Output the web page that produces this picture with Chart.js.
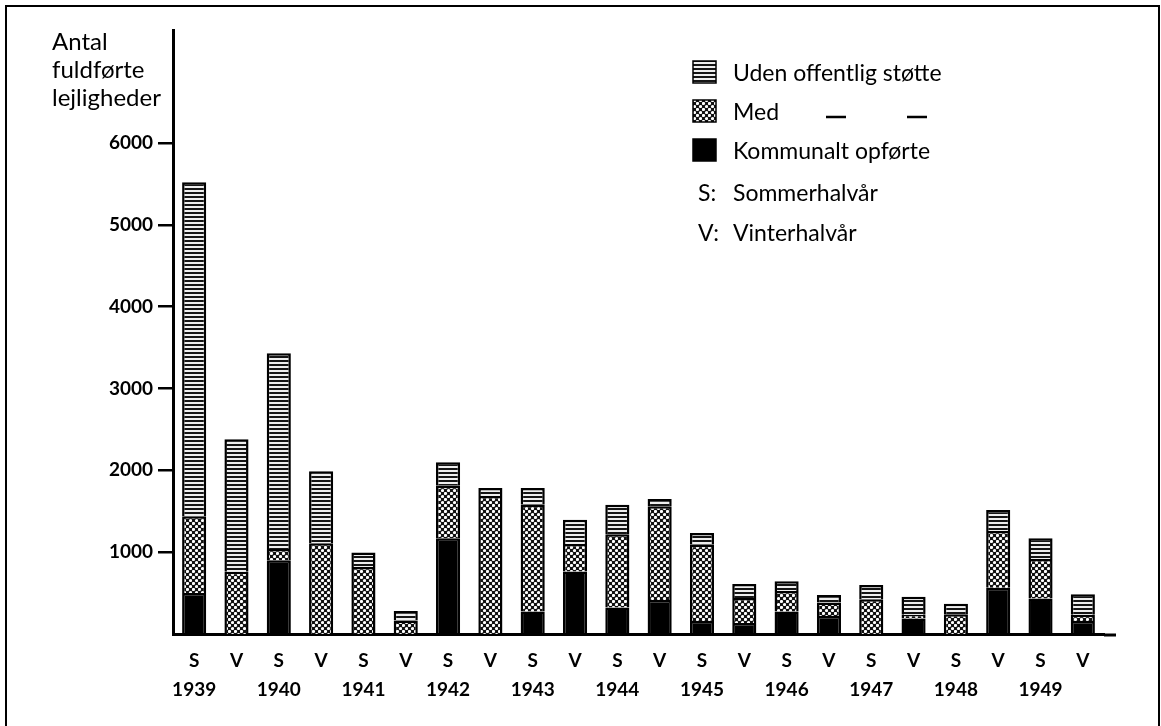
<!DOCTYPE html>
<html>
<head>
<meta charset="utf-8">
<script src="https://cdn.jsdelivr.net/npm/chart.js@4.4.0/dist/chart.umd.min.js"></script>
<style>
  html, body { margin: 0; padding: 0; background: #fff; }
  #wrap { width: 1161px; height: 726px; }
</style>
</head>
<body>
<div id="wrap"><canvas id="boligChart" width="1161" height="726"></canvas></div>
<script>
// halvår og år under søjlerne
const seasons = ['S','V','S','V','S','V','S','V','S','V','S','V','S','V','S','V','S','V','S','V','S','V'];
const years   = ['1939','','1940','','1941','','1942','','1943','','1944','','1945','','1946','','1947','','1948','','1949',''];

// antal fuldførte lejligheder pr. halvår (aflæst)
const kommunalt = [500, 0, 900, 0, 0, 0, 1170, 0, 275, 765, 325, 415, 160, 135, 275, 220, 0, 190, 0, 565, 435, 160];
const medStotte = [940, 760, 140, 1110, 820, 165, 640, 1685, 1305, 335, 895, 1145, 930, 305, 250, 165, 425, 45, 240, 695, 480, 75];
const udenStotte = [4080, 1620, 2390, 880, 175, 115, 290, 100, 205, 295, 360, 90, 145, 170, 120, 90, 175, 220, 130, 255, 255, 250];

const yTicks = [1000, 2000, 3000, 4000, 5000, 6000];
const yTitle = ['Antal', 'fuldførte', 'lejligheder'];
const notes = [['S:', 'Sommerhalvår'], ['V:', 'Vinterhalvår']];

const FONT = 'Lato, "Open Sans", sans-serif';

// skravering: vandrette striber
function stripePattern() {
    const c = document.createElement('canvas');
    c.width = 8; c.height = 4;
    const g = c.getContext('2d');
    g.fillStyle = '#eeeeee';
    g.fillRect(0, 0, 8, 4);
    g.fillStyle = '#151515';
    g.fillRect(0, 0, 8, 2);
    return g.createPattern(c, 'repeat');
}

// krydsskravering: sort med hvide prikker
function crossPattern() {
    const c = document.createElement('canvas');
    c.width = 6; c.height = 6;
    const g = c.getContext('2d');
    g.fillStyle = '#111';
    g.fillRect(0, 0, 6, 6);
    g.fillStyle = '#fff';
    [[1.5, 1.5], [4.5, 4.5]].forEach(function(p) {
        g.beginPath();
        g.arc(p[0], p[1], 1.6, 0, Math.PI * 2);
        g.fill();
    });
    return g.createPattern(c, 'repeat');
}

const labels = seasons.map(function(s, i) { return [s, years[i]]; });

// ramme, aksetitel og forklaring
const decorPlugin = {
    id: 'decor',
    afterDraw: function(chart) {
        const ctx = chart.ctx;
        const area = chart.chartArea;
        ctx.save();

        // ramme
        ctx.strokeStyle = '#000';
        ctx.lineWidth = 2;
        ctx.beginPath();
        ctx.moveTo(6, 726);
        ctx.lineTo(6, 6);
        ctx.lineTo(1159, 6);
        ctx.lineTo(1159, 726);
        ctx.stroke();

        // x-aksen fortsætter lidt
        ctx.lineWidth = 3;
        ctx.beginPath();
        ctx.moveTo(area.right, area.bottom + 1);
        ctx.lineTo(area.right + 12, area.bottom + 1);
        ctx.stroke();

        // aksetitel
        ctx.fillStyle = '#000';
        ctx.font = '24px ' + FONT;
        ctx.textAlign = 'left';
        ctx.textBaseline = 'alphabetic';
        yTitle.forEach(function(t, i) {
            ctx.fillText(t, 52, 50 + i * 28);
        });

        // forklaring
        const sx = 693, tx = 733;
        const rowY = [72, 111, 150, 192, 232];
        const ds = chart.data.datasets.slice().reverse();
        ctx.font = '23px ' + FONT;
        ctx.textBaseline = 'middle';
        ds.forEach(function(d, i) {
            const y = rowY[i];
            ctx.fillStyle = d.backgroundColor;
            ctx.fillRect(sx, y - 11, 23, 22);
            ctx.lineWidth = 1.5;
            ctx.strokeStyle = '#000';
            ctx.strokeRect(sx, y - 11, 23, 22);
            ctx.fillStyle = '#000';
            ctx.fillText(d.label, tx, y + 2);
            if (d.ditto) {
                ctx.lineWidth = 2.5;
                ctx.beginPath();
                ctx.moveTo(826, y + 6); ctx.lineTo(846, y + 6);
                ctx.moveTo(907, y + 6); ctx.lineTo(927, y + 6);
                ctx.stroke();
            }
        });
        notes.forEach(function(n, i) {
            const y = rowY[ds.length + i];
            ctx.fillText(n[0], 698, y + 2);
            ctx.fillText(n[1], tx, y + 2);
        });
        ctx.restore();
    }
};

const ctx = document.getElementById('boligChart').getContext('2d');
new Chart(ctx, {
    type: 'bar',
    data: {
        labels: labels,
        datasets: [
            { label: 'Kommunalt opførte', data: kommunalt, backgroundColor: '#000' },
            { label: 'Med', data: medStotte, backgroundColor: crossPattern(), ditto: true },
            { label: 'Uden offentlig støtte', data: udenStotte, backgroundColor: stripePattern() }
        ]
    },
    options: {
        responsive: false,
        animation: false,
        layout: { padding: { top: 30, right: 57, left: 0, bottom: 0 } },
        datasets: {
            bar: {
                borderColor: '#000',
                borderWidth: 2.5,
                categoryPercentage: 1,
                barPercentage: 0.57
            }
        },
        plugins: {
            legend: { display: false },
            tooltip: { enabled: false }
        },
        scales: {
            x: {
                stacked: true,
                grid: { display: false, drawTicks: false },
                border: { color: '#000', width: 3 },
                ticks: {
                    color: '#000',
                    maxRotation: 0,
                    autoSkip: false,
                    padding: 13,
                    font: { family: FONT, size: 19, weight: 'bold', lineHeight: 1.5 }
                },
                afterFit: function(scale) { scale.height = 92; }
            },
            y: {
                stacked: true,
                min: 0,
                max: 7380,
                grid: {
                    drawOnChartArea: false,
                    drawTicks: true,
                    tickLength: 15,
                    color: '#000',
                    lineWidth: 2.5
                },
                border: { color: '#000', width: 3 },
                ticks: {
                    color: '#000',
                    padding: 5,
                    font: { family: FONT, size: 19, weight: 'bold' },
                    callback: function(v) { return String(v); }
                },
                afterBuildTicks: function(scale) {
                    scale.ticks = yTicks.map(function(v) { return { value: v }; });
                },
                afterFit: function(scale) { scale.width = 173; }
            }
        }
    },
    plugins: [decorPlugin]
});
</script>
</body>
</html>
